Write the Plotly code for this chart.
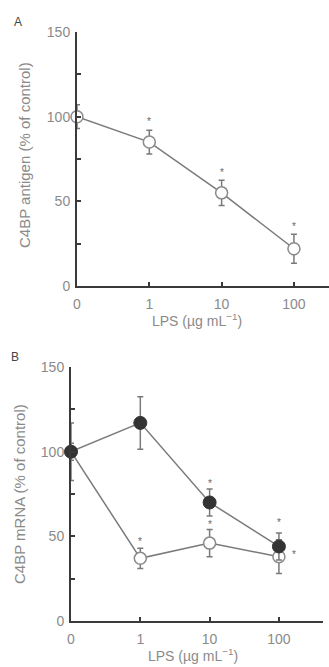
import plotly.graph_objects as go

# ---------------- data ----------------
x_labels = ["0", "1", "10", "100"]

a_mean = [100, 85, 55, 22]
a_err = [7, 7, 7.5, 8.5]
a_sig_y = [None, 99, 69, 37]

b_closed = [100, 117, 70, 44]
b_closed_err = [5, 15.5, 8, 8]
b_open = [100, 37, 46, 38]
b_open_err = [17, 6, 8, 10]
b_closed_sig_y = [None, None, 83, 60]
b_open_sig_y = [None, 49, 59, 41]

y_major = [0, 50, 100, 150]
y_minor = [25, 75, 125]

# ---------------- layout helpers ----------------
W, H = 329, 667
ML, MR, MT, MB = 71, 0, 32, 46
PW, PH = W - ML - MR, H - MT - MB


def px_x(p):
    return (p - ML) / PW


def px_y(p):
    return (H - MB - p) / PH


TXT = "#8a8a8a"
AX = "#3a3a3a"
LINE = "#7a7a7a"
FONT = "Liberation Sans, Arial, sans-serif"
idx = list(range(len(x_labels)))

fig = go.Figure()

# Panel A
fig.add_trace(go.Scatter(
    x=idx, y=a_mean, mode="lines+markers", xaxis="x", yaxis="y",
    line=dict(color=LINE, width=1.5),
    marker=dict(symbol="circle", size=12, color="white",
                line=dict(color="#8a8a8a", width=1.5)),
    error_y=dict(type="data", array=a_err, color=LINE, thickness=1.5, width=3),
    cliponaxis=False, showlegend=False))

# Panel B (open first so the filled circle sits on top at 0)
fig.add_trace(go.Scatter(
    x=idx, y=b_open, mode="lines+markers", xaxis="x2", yaxis="y2",
    line=dict(color=LINE, width=1.5),
    marker=dict(symbol="circle", size=12, color="white",
                line=dict(color="#8a8a8a", width=1.5)),
    error_y=dict(type="data", array=b_open_err, color=LINE, thickness=1.5, width=3),
    cliponaxis=False, showlegend=False))
fig.add_trace(go.Scatter(
    x=idx, y=b_closed, mode="lines+markers", xaxis="x2", yaxis="y2",
    line=dict(color=LINE, width=1.5),
    marker=dict(symbol="circle", size=13, color="#333333",
                line=dict(color="#333333", width=1)),
    error_y=dict(type="data", array=b_closed_err, color=LINE, thickness=1.5, width=3),
    cliponaxis=False, showlegend=False))

ann = []
star_font = dict(size=10, color="#666666", family=FONT)
for i, yv in enumerate(a_sig_y):
    if yv is not None:
        ann.append(dict(x=idx[i], y=yv, xref="x", yref="y", text="*", showarrow=False,
                        xanchor="center", yanchor="middle", font=star_font, yshift=-3))
for i, yv in enumerate(b_closed_sig_y):
    if yv is not None:
        ann.append(dict(x=idx[i], y=yv, xref="x2", yref="y2", text="*", showarrow=False,
                        xanchor="center", yanchor="middle", font=star_font, yshift=-3))
for i, yv in enumerate(b_open_sig_y):
    if yv is not None:
        ann.append(dict(x=idx[i], y=yv, xref="x2", yref="y2", text="*", showarrow=False,
                        xanchor="center", yanchor="middle", font=star_font, yshift=-3,
                        xshift=15 if i == 3 else 0))


def label(px, py, text, size, color=TXT, angle=0):
    ann.append(dict(x=px_x(px), y=px_y(py), xref="paper", yref="paper", text=text,
                    textangle=angle, showarrow=False, xanchor="center", yanchor="middle",
                    font=dict(size=size, color=color, family=FONT)))


label(18, 22, "A", 12, "#444444")
label(15, 357, "B", 12, "#444444")
label(24, 155, "C4BP antigen (% of control)", 15, angle=-90)
label(19, 494, "C4BP mRNA (% of control)", 15, angle=-90)
label(197, 320, "LPS (µg mL<sup>−1</sup>)", 14)
label(193, 655, "LPS (µg mL<sup>−1</sup>)", 14)

xcommon = dict(tickvals=idx, ticktext=x_labels, ticks="inside", ticklen=4,
               tickwidth=1.5, tickcolor=AX, showline=True, linecolor=AX, linewidth=2,
               showgrid=False, zeroline=False, ticklabelstandoff=4,
               tickfont=dict(size=14, color=TXT, family=FONT))
ycommon = dict(range=[0, 150], tickvals=y_major, ticks="inside", ticklen=4,
               tickwidth=1.5, tickcolor=AX, showline=True, linecolor=AX, linewidth=2,
               showgrid=False, zeroline=False, ticklabelstandoff=2,
               minor=dict(tickvals=y_minor, ticks="inside", ticklen=4, tickcolor=AX,
                          tickwidth=1.5),
               tickfont=dict(size=14, color=TXT, family=FONT))

fig.update_layout(
    width=W, height=H, margin=dict(l=ML, r=MR, t=MT, b=MB),
    paper_bgcolor="white", plot_bgcolor="white",
    xaxis=dict(domain=[px_x(77), 1], range=[0, 3.485], anchor="y", **xcommon),
    yaxis=dict(domain=[px_y(286), 1], anchor="x", **ycommon),
    xaxis2=dict(domain=[0, px_x(323)], range=[0, 3.636], anchor="y2", **xcommon),
    yaxis2=dict(domain=[0, px_y(367)], anchor="x2", **ycommon),
    annotations=ann,
)

fig.write_html("out.html")
